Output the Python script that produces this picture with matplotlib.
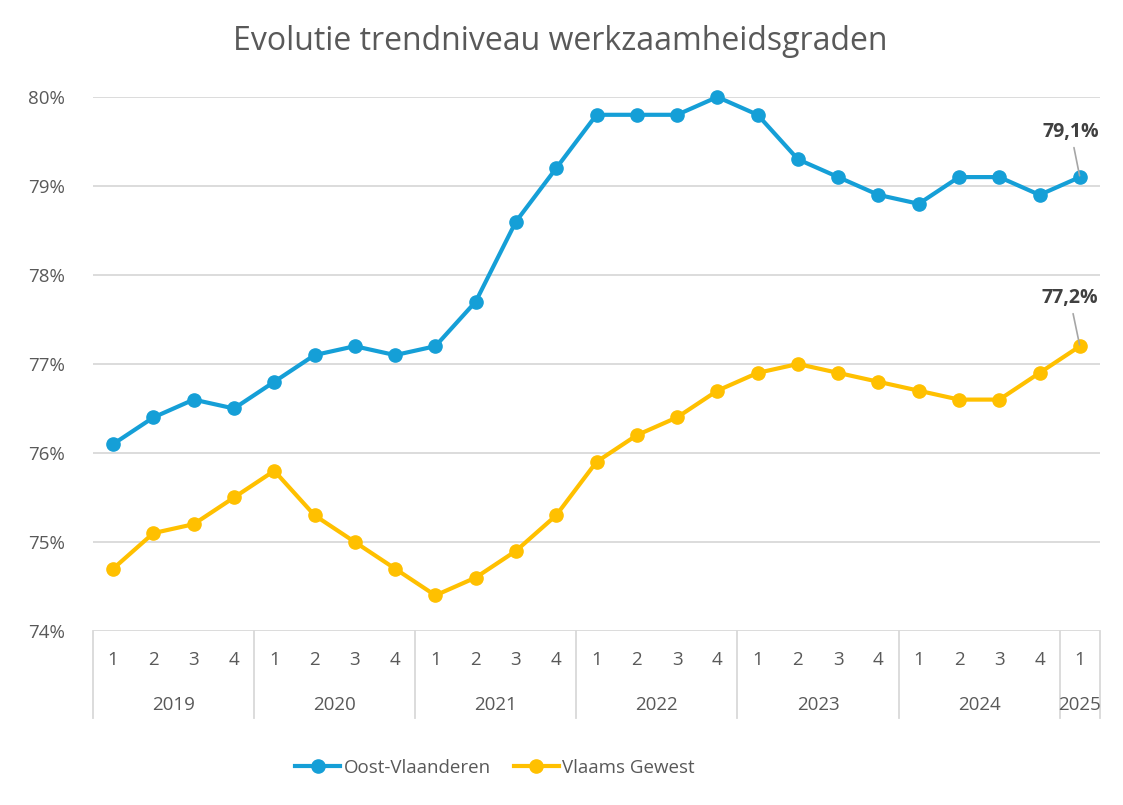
import matplotlib
matplotlib.use("Agg")
import matplotlib.pyplot as plt
import matplotlib.transforms as mtransforms

quarters = ["1", "2", "3", "4"] * 6 + ["1"]
years = ["2019", "2020", "2021", "2022", "2023", "2024", "2025"]
oost_vl = [76.1, 76.4, 76.6, 76.5,
           76.8, 77.1, 77.2, 77.1,
           77.2, 77.7, 78.6, 79.2,
           79.8, 79.8, 79.8, 80.0,
           79.8, 79.3, 79.1, 78.9,
           78.8, 79.1, 79.1, 78.9,
           79.1]
vlaams = [74.7, 75.1, 75.2, 75.5,
          75.8, 75.3, 75.0, 74.7,
          74.4, 74.6, 74.9, 75.3,
          75.9, 76.2, 76.4, 76.7,
          76.9, 77.0, 76.9, 76.8,
          76.7, 76.6, 76.6, 76.9,
          77.2]
yticks = [74, 75, 76, 77, 78, 79, 80]

blue = "#159FD7"
yellow = "#FFC000"
grey_txt = "#595959"
grid_c = "#D9D9D9"

plt.rcParams["font.family"] = ["Open Sans", "DejaVu Sans"]

fig = plt.figure(figsize=(11.23, 8.05), dpi=100)
W, H = 1123, 805
ax = fig.add_axes([93 / W, 1 - 631 / H, (1100 - 93) / W, (631 - 97) / H])

x = list(range(len(quarters)))
ax.plot(x, oost_vl, color=blue, lw=3, marker="o", ms=9.5, label="Oost-Vlaanderen", clip_on=False, zorder=3)
ax.plot(x, vlaams, color=yellow, lw=3, marker="o", ms=9.5, label="Vlaams Gewest", clip_on=False, zorder=3)

ax.set_xlim(-0.5, len(quarters) - 0.5)
ax.set_ylim(74, 80)
ax.set_yticks(yticks)
ax.set_yticklabels([f"{v}%" for v in yticks], color=grey_txt, fontsize=13.5)
ax.tick_params(axis="y", length=0, pad=20)
ax.set_xticks([])
for s in ax.spines.values():
    s.set_visible(False)
for v in yticks:
    ax.axhline(v, color=grid_c, lw=1.3, zorder=1)

# category table below the axis
tr = mtransforms.blended_transform_factory(ax.transData, ax.transAxes)
yq = -(660 - 631) / (631 - 97)
yy = -(705 - 631) / (631 - 97)
ybot = -(718 - 631) / (631 - 97)
for i, q in enumerate(quarters):
    ax.text(i, yq, q, transform=tr, ha="center", va="center", color=grey_txt, fontsize=13.5)
bounds = [-0.5]
for k, yr in enumerate(years):
    start = k * 4
    end = min(start + 4, len(quarters))
    bounds.append(end - 0.5)
    ax.text((start + end - 1) / 2, yy, yr, transform=tr, ha="center", va="center", color=grey_txt, fontsize=13.5)
for b in bounds:
    ax.plot([b, b], [0, ybot], transform=tr, color=grid_c, lw=1.3, clip_on=False)

# end labels
for series, off in [(oost_vl, (-9, 45)), (vlaams, (-10, 48))]:
    v = series[-1]
    ax.annotate(f"{v:.1f}%".replace(".", ","), xy=(x[-1], v), xytext=off, textcoords="offset pixels",
                ha="center", va="center", fontsize=14, fontweight="bold", color="#404040",
                arrowprops=dict(arrowstyle="-", color="#A6A6A6", lw=1.2, shrinkA=2, shrinkB=1))

fig.text(560 / W, 1 - 42 / H, "Evolutie trendniveau werkzaamheidsgraden", ha="center", va="center",
         fontsize=23, color=grey_txt)

fig.legend(loc="center", bbox_to_anchor=(495 / W, 1 - 768 / H), ncol=2, frameon=False,
           fontsize=13.5, labelcolor=grey_txt, handlelength=2.4, columnspacing=1.2, handletextpad=0.2)

fig.savefig("out.png", dpi=100)
